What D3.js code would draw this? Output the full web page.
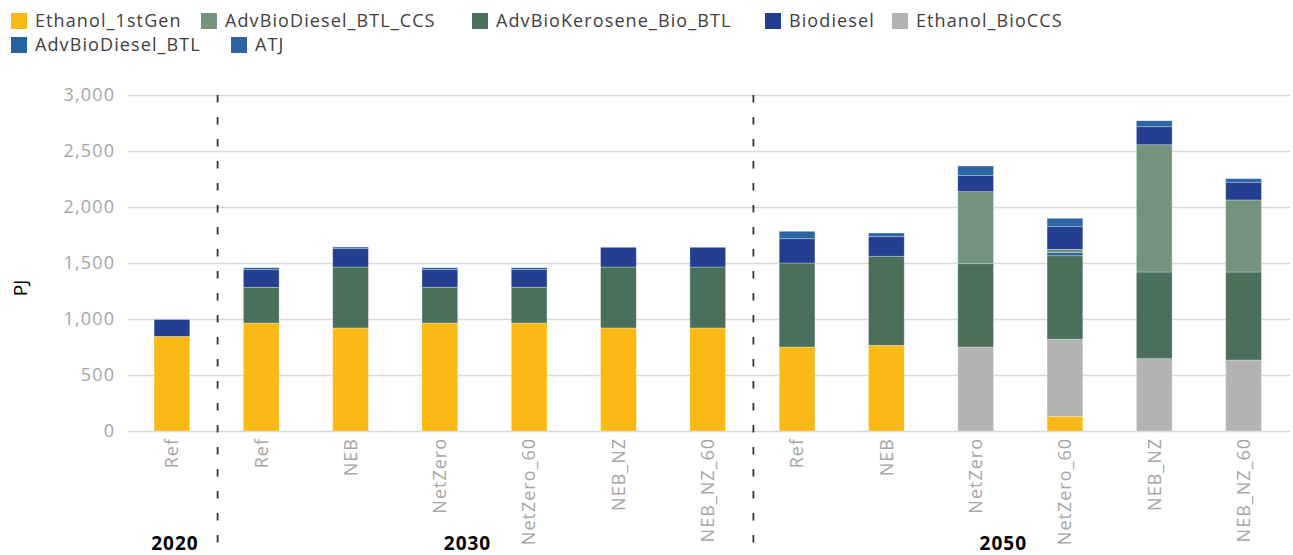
<!DOCTYPE html>
<html>
<head>
<meta charset="utf-8">
<script src="https://cdn.jsdelivr.net/npm/d3@7"></script>
<style>
  body { margin: 0; background: #fff; }
  text { font-family: "Open Sans", sans-serif; }
</style>
</head>
<body>
<svg id="chart" width="1293" height="555"></svg>
<script>
// categories along the x axis, and the year each one belongs to
var scenarios = ["Ref", "Ref", "NEB", "NetZero", "NetZero_60", "NEB_NZ", "NEB_NZ_60",
                 "Ref", "NEB", "NetZero", "NetZero_60", "NEB_NZ", "NEB_NZ_60"];
var years = ["2020", "2030", "2030", "2030", "2030", "2030", "2030",
             "2050", "2050", "2050", "2050", "2050", "2050"];

// series, in stacking order (bottom to top)
var seriesNames = ["Ethanol_1stGen", "Ethanol_BioCCS", "AdvBioKerosene_Bio_BTL",
                   "AdvBioDiesel_BTL", "AdvBioDiesel_BTL_CCS", "Biodiesel", "ATJ"];
var ethanol1stGen   = [845, 964, 920, 964, 964, 920, 920, 750, 765,   0, 131,    0,   0];
var ethanolBioCCS   = [  0,   0,   0,   0,   0,   0,   0,   0,   0, 750, 688,  646, 634];
var advBioKerosene  = [  0, 319, 544, 319, 319, 544, 544, 750, 795, 744, 746,  774, 786];
var advBioDieselBTL = [  0,   0,   0,   0,   0,   0,   0,   0,   0,   0,  27,    0,   0];
var advBioDieselCCS = [  0,   0,   0,   0,   0,   0,   0,   0,   0, 643,  30, 1136, 643];
var biodiesel       = [150, 157, 164, 157, 157, 176, 176, 217, 175, 146, 206,  161, 158];
var atj             = [  0,  18,  15,  18,  18,   0,   0,  66,  33,  83,  71,   53,  32];

var legendOrder = ["Ethanol_1stGen", "AdvBioDiesel_BTL_CCS", "AdvBioKerosene_Bio_BTL",
                   "Biodiesel", "Ethanol_BioCCS", "AdvBioDiesel_BTL", "ATJ"];
var yTicks = [0, 500, 1000, 1500, 2000, 2500, 3000];

var colors = {
  "Ethanol_1stGen": "#FBB915",
  "Ethanol_BioCCS": "#B3B3B3",
  "AdvBioKerosene_Bio_BTL": "#4A705C",
  "AdvBioDiesel_BTL": "#2A63A1",
  "AdvBioDiesel_BTL_CCS": "#75937D",
  "Biodiesel": "#243F8F",
  "ATJ": "#2B65A3"
};

var values = [ethanol1stGen, ethanolBioCCS, advBioKerosene, advBioDieselBTL,
              advBioDieselCCS, biodiesel, atj];
var rows = scenarios.map(function (s, i) {
  var r = { idx: i, scenario: s, year: years[i] };
  seriesNames.forEach(function (n, k) { r[n] = values[k][i]; });
  return r;
});

var svg = d3.select("#chart");
var plotTop = 95, plotBottom = 431, plotLeft = 127.3, plotRight = 1288.2;

var x = d3.scaleBand().domain(d3.range(scenarios.length)).range([plotLeft, plotRight])
  .paddingInner(0.6).paddingOuter(0.3);
var y = d3.scaleLinear().domain([0, 3000]).range([plotBottom, plotTop]);

// gridlines + y labels
var yAxis = svg.append("g").attr("transform", "translate(" + plotLeft + ",0)")
  .call(d3.axisLeft(y).tickValues(yTicks).tickSize(-(plotRight - plotLeft + 2)).tickPadding(12)
    .tickFormat(d3.format(",")));
yAxis.select(".domain").remove();
yAxis.selectAll(".tick line").attr("stroke", "#D9D9D9").attr("stroke-width", 1.5);
yAxis.selectAll(".tick text").attr("fill", "#A6A6A6").style("font-size", "18px")
  .style("letter-spacing", "1.2px");

svg.append("text").attr("transform", "translate(27,288) rotate(-90)")
  .attr("text-anchor", "middle").style("font-size", "19px").attr("fill", "#000").text("PJ");

// stacked bars
var stacked = d3.stack().keys(seriesNames)(rows);
svg.append("g").selectAll("g").data(stacked).join("g")
  .attr("fill", function (d) { return colors[d.key]; })
  .selectAll("rect").data(function (d) { return d; }).join("rect")
  .attr("x", function (d) { return x(d.data.idx); })
  .attr("width", x.bandwidth())
  .attr("y", function (d) { return y(d[1]); })
  .attr("height", function (d) { return y(d[0]) - y(d[1]); })
  .attr("stroke", "rgba(255,255,255,0.35)").attr("stroke-width", 0.8);

// x labels, rotated
var xAxis = svg.append("g").attr("transform", "translate(0," + plotBottom + ")")
  .call(d3.axisBottom(x).tickSize(0).tickPadding(0)
    .tickFormat(function (i) { return scenarios[i]; }));
xAxis.select(".domain").remove();
xAxis.selectAll(".tick text")
  .attr("transform", "translate(0,7) rotate(-90)")
  .attr("text-anchor", "end").attr("dy", "0.35em").attr("x", 0).attr("y", 0)
  .attr("fill", "#A6A6A6").style("font-size", "18px").style("letter-spacing", "1px");

// year separators and labels
var groups = [];
years.forEach(function (yr, i) {
  var g = groups[groups.length - 1];
  if (!g || g.year !== yr) groups.push({ year: yr, first: i, last: i });
  else g.last = i;
});
var step = x.step();
groups.slice(1).forEach(function (g) {
  var xs = x(g.first) + x.bandwidth() / 2 - step / 2 + 1;
  svg.append("line").attr("x1", xs).attr("x2", xs).attr("y1", plotTop).attr("y2", 555)
    .attr("stroke", "#333").attr("stroke-width", 1.8).attr("stroke-dasharray", "7.5,14.5");
});
groups.forEach(function (g) {
  var cx = (x(g.first) + x(g.last) + x.bandwidth()) / 2;
  if (g.last > g.first) cx -= 20;
  svg.append("text").attr("x", cx + 3).attr("y", 550).attr("text-anchor", "middle")
    .style("font-size", "19px").style("font-weight", "bold").style("letter-spacing", "1px")
    .attr("fill", "#000").text(g.year);
});

// legend
var legendX = [11, 201, 472, 765, 892, 11, 231];
var legend = svg.append("g");
legendOrder.forEach(function (name, i) {
  var item = legend.append("g")
    .attr("transform", "translate(" + legendX[i] + "," + (i < 5 ? 13 : 37) + ")");
  item.append("rect").attr("width", 16).attr("height", 16).attr("fill", colors[name]);
  item.append("text").attr("x", 24).attr("y", 8).attr("dy", "0.36em")
    .style("font-size", "18px").style("letter-spacing", "1.1px").attr("fill", "#404040").text(name);
});
</script>
</body>
</html>
